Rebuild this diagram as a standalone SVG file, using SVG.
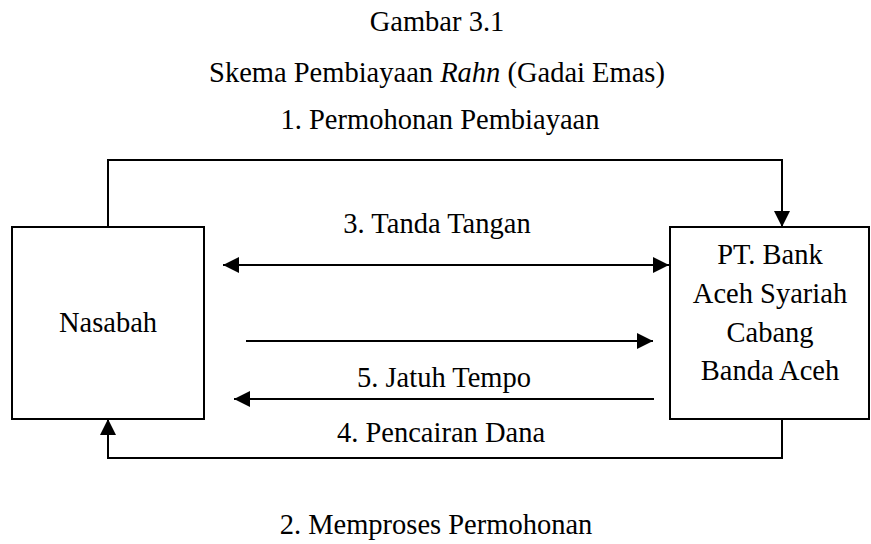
<svg xmlns="http://www.w3.org/2000/svg" width="871" height="544" viewBox="0 0 871 544">
<style>
text{font-family:"Liberation Serif","Times New Roman",serif;font-size:28.5px;fill:#000;text-anchor:middle}
.box{fill:#fff;stroke:#000;stroke-width:2}
.ln{fill:none;stroke:#000;stroke-width:2}
</style>
<defs>
<marker id="ah" viewBox="0 0 16 16" refX="16" refY="8" markerWidth="16" markerHeight="16" markerUnits="userSpaceOnUse" orient="auto-start-reverse">
<path d="M0,0 L16,8 L0,16 Z" fill="#000"/>
</marker>
</defs>
<rect width="871" height="544" fill="#fff"/>
<g id="title">
<text x="437" y="31">Gambar 3.1</text>
<text x="437" y="82">Skema Pembiayaan <tspan font-style="italic">Rahn</tspan> (Gadai Emas)</text>
</g>
<g id="nasabah">
<rect class="box" x="12" y="227" width="192" height="192"/>
<text x="108" y="332">Nasabah</text>
</g>
<g id="bank">
<rect class="box" x="670" y="227" width="199" height="192"/>
<text x="770" y="264">PT. Bank</text>
<text x="770" y="303">Aceh Syariah</text>
<text x="770" y="342">Cabang</text>
<text x="770" y="380">Banda Aceh</text>
</g>
<g id="connectors">
<path class="ln" d="M108,227 V160 H782 V227" marker-end="url(#ah)"/>
<path class="ln" d="M782,419 V458 H108 V419" marker-end="url(#ah)"/>
<path class="ln" d="M223,265 H669" marker-start="url(#ah)" marker-end="url(#ah)"/>
<path class="ln" d="M246,341 H653" marker-end="url(#ah)"/>
<path class="ln" d="M654,399 H234" marker-end="url(#ah)"/>
<text x="440" y="129">1. Permohonan Pembiayaan</text>
<text x="437" y="233">3. Tanda Tangan</text>
<text x="444" y="387">5. Jatuh Tempo</text>
<text x="441" y="442">4. Pencairan Dana</text>
<text x="436" y="534">2. Memproses Permohonan</text>
</g>
</svg>
